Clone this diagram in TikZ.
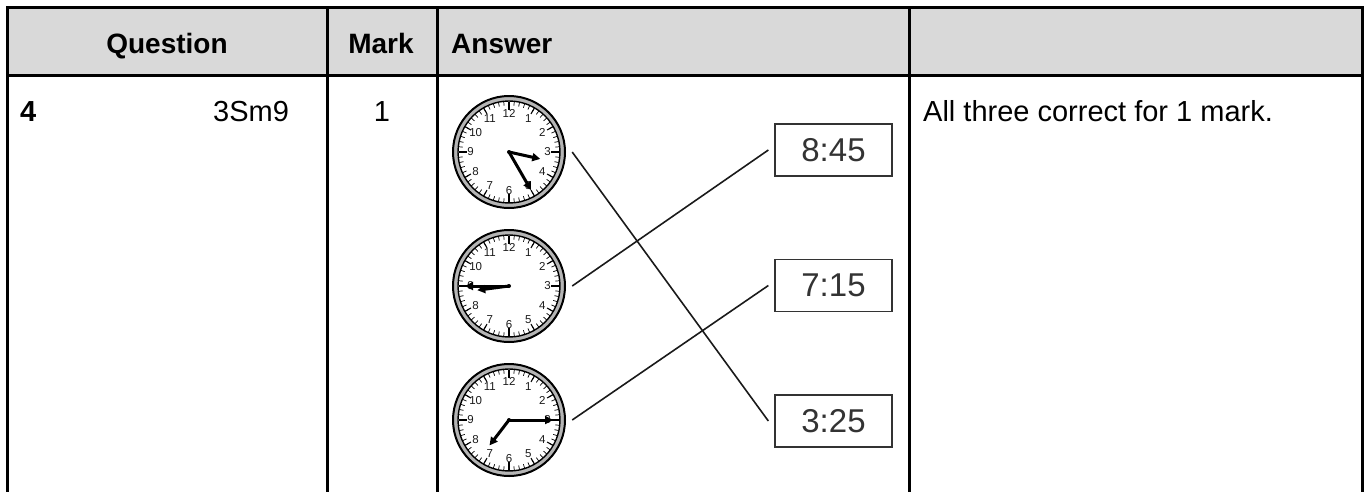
\documentclass[tikz,border=0pt]{standalone}
\usepackage{fontspec}
\setmainfont{Liberation Sans}
\usetikzlibrary{arrows.meta}
\definecolor{hdr}{HTML}{D9D9D9}
\definecolor{ink}{HTML}{1A1A1A}
\definecolor{boxtxt}{HTML}{333333}
\definecolor{ringgray}{HTML}{B5B5B5}
\newcommand\clockdecor[4]{%
 \begin{scope}[shift={(#1,#2)}]
  \fill[ringgray, even odd rule] (0,0) circle[radius=55.5pt] (0,0) circle[radius=51.5pt];
  \draw[line width=2pt] (0,0) circle[radius=56pt];
  \draw[line width=1.4pt] (0,0) circle[radius=51pt];
  \foreach \i in {0,...,59} \draw[line width=0.7pt] (\i*6:50.5pt) -- (\i*6:46.5pt);
  \foreach \i in {0,...,11} \draw[line width=1.1pt] (\i*30:50.5pt) -- (\i*30:44pt);
  \foreach \i in {0,...,3} \draw[line width=1.2pt] (\i*90:50.5pt) -- (\i*90:42pt);
  \foreach \n in {1,...,12} \node[font=\fontsize{11.5}{11.5}\selectfont, text=ink, inner sep=0] at ({90-\n*30}:38.5pt) {\n};
  \draw[hand] (0,0) -- (#3:32pt);
  \draw[hand] (0,0) -- (#4:44pt);
  \fill (0,0) circle[radius=2pt];
 \end{scope}}
\tikzset{
  tab/.style={line width=3pt, line cap=rect},
  hand/.style={line width=3pt, -{Triangle[length=8pt,width=8pt]}},
  clockbox/.style={circle, minimum size=112pt, inner sep=0pt},
  timebox/.style={draw=boxtxt, line width=1.3pt, minimum width=117pt, minimum height=52pt, inner sep=0pt, text=boxtxt, font=\fontsize{33}{33}\selectfont},
  conn/.style={draw=ink, line width=1.6pt},
  hfont/.style={font=\fontsize{28}{28}\selectfont\bfseries, inner sep=0pt},
  bfont/.style={font=\fontsize{29}{29}\selectfont, inner sep=0pt},
}
\begin{document}
\begin{tikzpicture}[x=1pt, y=-1pt]
\useasboundingbox (0,0) rectangle (1367,491);
% header background
\fill[hdr] (7,7) rectangle (1362,75);
% table lines
\draw[tab] (7,491) -- (7,7) -- (1362,7) -- (1362,491);
\draw[tab] (7,75) -- (1362,75);
\draw[tab] (327,7) -- (327,491);
\draw[tab] (437,7) -- (437,491);
\draw[tab] (909,7) -- (909,491);
% header texts
\node[hfont, anchor=base] (hq) at (167,53) {Question};
\node[hfont, anchor=base] (hm) at (381,53) {Mark};
\node[hfont, anchor=base west] (ha) at (451,53) {Answer};
% body texts
\node[bfont, anchor=base west] (q4) at (20,121) {\bfseries 4};
\node[bfont, anchor=base west] (qc) at (213,121) {3Sm9};
\node[bfont, anchor=base] (mk) at (382,121) {1};
\node[bfont, anchor=base west] (note) at (923,121) {All three correct for 1 mark.};
% clocks
\node[clockbox] (c1) at (509,152) {};
\node[clockbox] (c2) at (509,286) {};
\node[clockbox] (c3) at (509,420) {};
\clockdecor{509}{152}{-12.5}{-60}
\clockdecor{509}{286}{-172.5}{-180}
\clockdecor{509}{420}{-127.5}{0}
% time boxes
\node[timebox] (t845) at (833.5,150) {8:45};
\node[timebox] (t715) at (833.5,285.5) {7:15};
\node[timebox] (t325) at (833.5,421) {3:25};
% connectors
\draw[conn] ([xshift=7pt]c1.east) -- ([xshift=-6pt]t325.west);
\draw[conn] ([xshift=7pt]c2.east) -- ([xshift=-6pt]t845.west);
\draw[conn] ([xshift=7pt]c3.east) -- ([xshift=-6pt]t715.west);
\end{tikzpicture}
\end{document}
